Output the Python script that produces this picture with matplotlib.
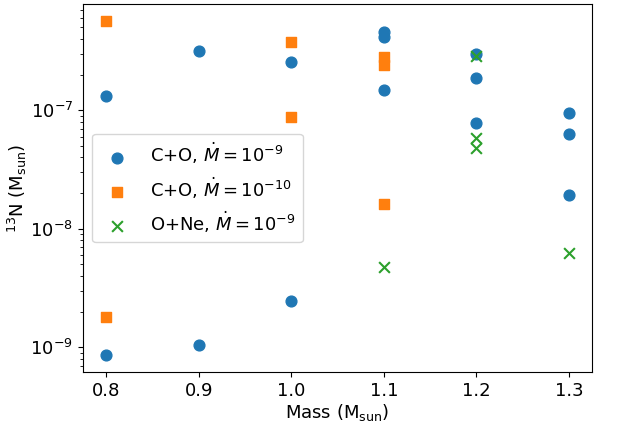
import matplotlib
matplotlib.use("Agg")
import matplotlib.pyplot as plt
from matplotlib.ticker import NullFormatter

# C+O, Mdot = 1e-9
co9_mass = [0.8, 0.8, 0.9, 0.9, 1.0, 1.0, 1.1, 1.1, 1.1, 1.2, 1.2, 1.2, 1.3, 1.3, 1.3]
co9_n13 = [1.31e-7, 8.6e-10, 3.15e-7, 1.04e-9, 2.54e-7, 2.44e-9,
           4.55e-7, 4.13e-7, 1.48e-7, 2.97e-7, 1.86e-7, 7.77e-8,
           9.4e-8, 6.3e-8, 1.92e-8]

# C+O, Mdot = 1e-10
co10_mass = [0.8, 0.8, 1.0, 1.0, 1.1, 1.1, 1.1]
co10_n13 = [5.64e-7, 1.79e-9, 3.75e-7, 8.73e-8, 2.8e-7, 2.4e-7, 1.61e-8]

# O+Ne, Mdot = 1e-9
one_mass = [1.1, 1.2, 1.2, 1.2, 1.3]
one_n13 = [4.78e-9, 2.86e-7, 5.8e-8, 4.78e-8, 6.2e-9]

plt.rcParams['font.size'] = 13

fig, ax = plt.subplots(figsize=(6.28, 4.25), dpi=100)
ax.scatter(co9_mass, co9_n13, s=60, marker='o', label=r'C+O, $\dot{M}=10^{-9}$')
ax.scatter(co10_mass, co10_n13, s=60, marker='s', label=r'C+O, $\dot{M}=10^{-10}$')
ax.scatter(one_mass, one_n13, s=60, marker='x', label=r'O+Ne, $\dot{M}=10^{-9}$')
ax.set_yscale('log')
ax.yaxis.set_minor_formatter(NullFormatter())
ax.set_xlim(0.775, 1.325)
ax.set_ylim(6.2e-10, 7.85e-7)
ax.set_xlabel(r'Mass (M$_{\rm sun}$)', labelpad=2)
ax.set_ylabel(r'$^{13}$N (M$_{\rm sun}$)')
ax.yaxis.set_label_coords(-0.106, 0.5)
ax.legend(loc='center left')
fig.subplots_adjust(left=0.132, right=0.943, top=0.99, bottom=0.125)
fig.savefig('out.png')
